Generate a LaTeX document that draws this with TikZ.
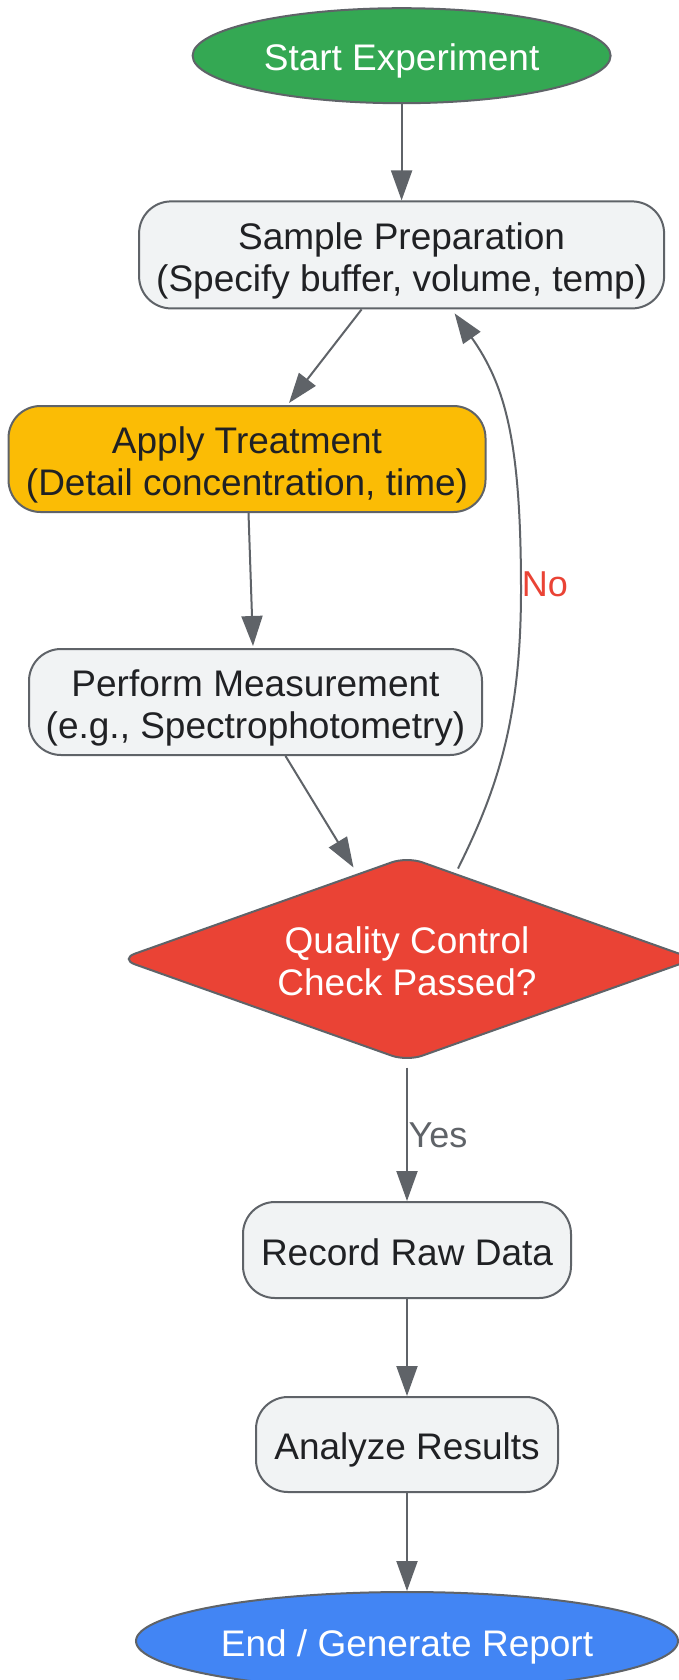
\documentclass[tikz,border=0pt]{standalone}
\usepackage{fontspec}
\setmainfont{Liberation Sans}
\usetikzlibrary{shapes.geometric,arrows.meta,calc}
\definecolor{gborder}{HTML}{5F6368}
\definecolor{gfill}{HTML}{F1F3F4}
\definecolor{gtext}{HTML}{202124}
\definecolor{ggreen}{HTML}{34A853}
\definecolor{gyellow}{HTML}{FBBC05}
\definecolor{gred}{HTML}{EA4335}
\definecolor{gblue}{HTML}{4285F4}
\newcommand\hstrut{\rule{0pt}{38pt}}
\newcommand\dstrut{\rule[-7pt]{0pt}{7pt}}
\begin{document}
\begin{tikzpicture}[x=1pt,y=-1pt,
  base/.style={draw=gborder, line width=2pt, font=\fontsize{37}{42}\selectfont, align=center, inner sep=0pt},
  proc/.style={base, rectangle, rounded corners=32pt, fill=gfill, text=gtext},
  term/.style={base, ellipse},
  arr/.style={draw=gborder, line width=2pt, -{Triangle[length=30pt,width=21pt]}},
  lbl/.style={font=\fontsize{36}{42}\selectfont, inner sep=0pt}]
\useasboundingbox (0,0) rectangle (679,1680);
\fill[white] (0,0) rectangle (679,1680);

\node[term, fill=ggreen, text=white, minimum width=418pt, minimum height=95pt] (start) at (401.6,55.7) {\hstrut Start Experiment\dstrut};
\node[proc, minimum width=525pt, minimum height=107pt] (sp) at (401.6,254.9) {\hstrut Sample Preparation\\(Specify buffer, volume, temp)\dstrut};
\node[proc, fill=gyellow, minimum width=477pt, minimum height=106pt] (at) at (247,459) {\hstrut Apply Treatment\\(Detail concentration, time)\dstrut};
\node[proc, minimum width=453pt, minimum height=106pt] (pm) at (255.5,702) {\hstrut Perform Measurement\\(e.g., Spectrophotometry)\dstrut};
\node[base, diamond, aspect=2.8, fill=gred, text=white, minimum width=575pt, minimum height=205pt, rounded corners=16pt] (qc) at (407,959) {\hstrut Quality Control\\Check Passed?\dstrut};
\node[proc, minimum width=328pt, minimum height=96pt] (rr) at (407,1250) {\hstrut Record Raw Data\dstrut};
\node[proc, minimum width=302pt, minimum height=95pt] (ar) at (407,1444.5) {\hstrut Analyze Results\dstrut};
\node[term, fill=gblue, text=white, minimum width=542pt, minimum height=98pt] (end) at (407,1641) {\hstrut End / Generate Report\dstrut};

\draw[arr] (start) -- (sp);
\draw[arr] ($(sp.south)+(-40,0)$) -- ($(at.north)+(42,-2)$);
\draw[arr] ($(at.south)+(1.5,0)$) -- ($(pm.north)+(-2.5,-2)$);
\draw[arr] ($(pm.south)+(30,0)$) -- ($(qc.north)+(-53.5,12)$);
\coordinate (nos) at ($(qc.north)+(51,13)$);
\coordinate (noe) at ($(sp.south)+(53,4)$);
\draw[arr] (nos) .. controls (497,790) and (521,720) .. (521,590) .. controls (521,440) and (505,385) .. (noe);
\node[lbl, text=gred] (nolbl) at (545,584) {No};
\draw[arr] ($(qc.south)+(0,5)$) -- (rr);
\node[lbl, text=gborder] (yeslbl) at (438,1135) {Yes};
\draw[arr] (rr) -- (ar);
\draw[arr] (ar) -- (end);
\end{tikzpicture}
\end{document}
